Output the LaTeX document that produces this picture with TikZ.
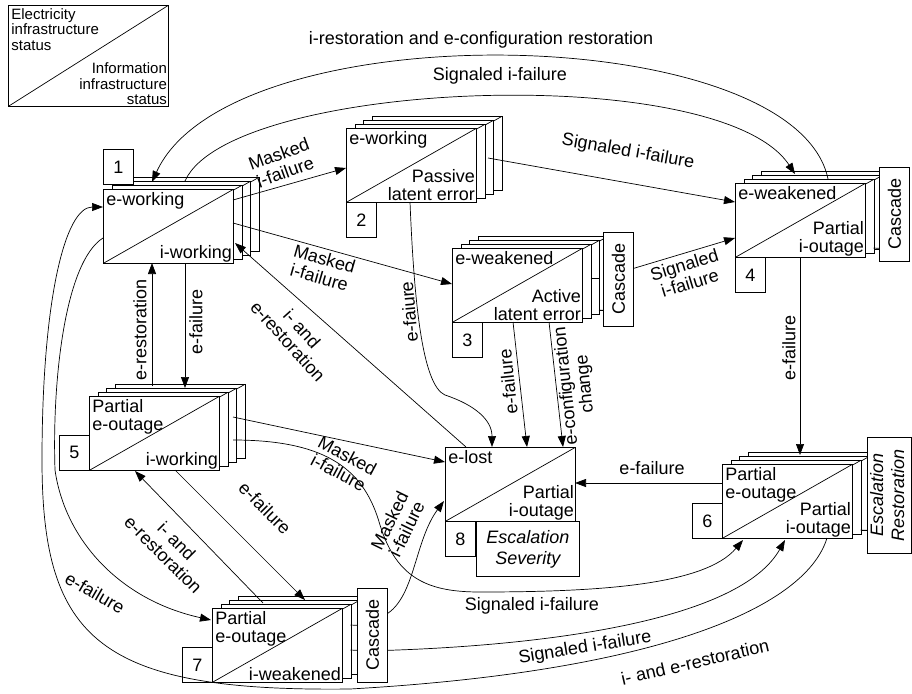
\documentclass[tikz,border=0pt]{standalone}
\usepackage{fontspec}
\setmainfont{Liberation Sans}
\usepackage{graphicx}
\usetikzlibrary{arrows.meta,calc}

\newcommand{\legendfont}{\fontsize{15}{15.5}\selectfont}
\tikzset{
  diag/.style={path picture={\draw (path picture bounding box.south west) -- (path picture bounding box.north east);}},
  sheet/.style={draw,fill=white,diag,anchor=north west,inner sep=0pt,minimum width=130pt,minimum height=74pt},
  etext/.style={anchor=north west,align=left,inner sep=3pt},
  itext/.style={anchor=south east,align=right,inner sep=1.5pt},
  numbox/.style={draw,fill=white,anchor=north west,inner sep=0pt,minimum width=30pt,minimum height=35pt},
  sidebox/.style={draw,fill=white,anchor=north west,inner sep=0pt,minimum width=30pt,minimum height=94pt},
  lbl/.style={inner sep=1pt,align=center,font=\fontsize{18}{19}\selectfont},
  arr/.style={-{Triangle[length=11pt,width=8pt]}},
}
% a state: three sheets behind the front one
\newcommand{\statestack}[4]{%
  \foreach \k in {3,2,1}
    \node[sheet] (#1c\k) at ($(#2)+(8.5*\k,-4*\k)$) {};
  \node[sheet] (#1) at (#2) {};
  \node[etext] (#1e) at (#1.north west) {#3};
  \node[itext] (#1i) at (#1.south east) {#4};
}

\begin{document}
\begin{tikzpicture}[x=1pt,y=-1pt,line width=0.7pt,font=\fontsize{18}{18}\selectfont]
\useasboundingbox (0,0) rectangle (912,693);

% legend
\node[sheet,minimum width=160pt,minimum height=101pt] (key) at (8,5) {};
\node[etext,font=\legendfont] (keye) at (key.north west) {Electricity\\infrastructure\\status};
\node[itext,font=\legendfont] (keyi) at (key.south east) {Information\\infrastructure\\status};

% states
\statestack{s1}{103,189}{e-working}{i-working}
\statestack{s2}{346,128}{e-working}{Passive\\latent error}
\statestack{s3}{452,248}{e-weakened}{Active\\latent error}
\statestack{s4}{735,183}{e-weakened}{Partial\\i-outage}
\statestack{s5}{89,396}{Partial\\e-outage}{i-working}
\statestack{s6}{722,464}{Partial\\e-outage}{Partial\\i-outage}
\statestack{s7}{212,608}{Partial\\e-outage}{i-weakened}
\node[sheet] (s8) at (445,447) {};
\node[etext] (s8e) at (s8.north west) {e-lost};
\node[itext] (s8i) at (s8.south east) {Partial\\i-outage};

% numbers
\node[numbox] (n1) at (103,149) {1};
\node[numbox] (n2) at (346,202) {2};
\node[numbox] (n3) at (452,322) {3};
\node[numbox] (n4) at (735,257) {4};
\node[numbox] (n5) at (59,435) {5};
\node[numbox] (n6) at (692,503) {6};
\node[numbox] (n7) at (182,647) {7};
\node[numbox] (n8) at (445,521) {8};

% side boxes
\node[sidebox] (c3) at (603,232) {\rotatebox{90}{Cascade}};
\node[sidebox] (c4) at (879,167) {\rotatebox{90}{Cascade}};
\node[sidebox] (c7) at (357,588) {\rotatebox{90}{Cascade}};
\node[sidebox,minimum width=44pt,minimum height=116pt,font=\fontsize{18}{21}\selectfont\itshape] (e6) at (867,437)
  {\rotatebox{90}{\begin{tabular}{@{}c@{}}Escalation\\Restoration\end{tabular}}};
\node[draw,fill=white,anchor=north west,inner sep=0pt,minimum width=103pt,minimum height=55pt,
  align=center,font=\fontsize{18}{21}\selectfont\itshape] (e8) at (476,521) {Escalation\\Severity};

% ties to the side boxes
\draw ([shift={(138.5,30)}]s3.north west) -- ([shift={(147,30)}]s3.north west);
\draw ([shift={(147,62)}]s3.north west) -- ([shift={(0,31)}]c3.west);
\draw ([shift={(138.5,65)}]s4.north west) -- ([shift={(0,34)}]c4.west);
\draw ([shift={(138.5,17)}]s7.north west) -- ([shift={(0,-10)}]c7.west);
\draw ([shift={(138.5,42)}]s7.north west) -- ([shift={(0,15)}]c7.west);
\draw ([shift={(138.5,66)}]s6.north west) -- ([shift={(0,35)}]e6.west);

% transitions
\draw[arr] ([shift={(93,-4)}]s4.north west) .. controls (795,20) and (230,10) .. ([shift={(49,-7)}]s1.north west);
\draw[arr] ([shift={(82,-8)}]s1.north west) .. controls (230,80) and (720,60) .. ([shift={(60,-9)}]s4.north west);
\draw[arr] ([shift={(130,11)}]s1.north west) -- ([shift={(0,40)}]s2.north west);
\draw[arr] ([shift={(130,34)}]s1.north west) -- ([shift={(0,36)}]s3.north west);
\draw[arr] ([shift={(21,0)}]s8.north west) -- ([shift={(132,54)}]s1.north west);
\draw[arr] ([shift={(82,74)}]s1.north west) -- ([shift={(96,-8)}]s5.north west);
\draw[arr] ([shift={(63,-10)}]s5.north west) -- ([shift={(49,74)}]s1.north west);
\draw[arr] ([shift={(142,30)}]s2.north west) -- ([shift={(0,19)}]s4.north west);
\draw[arr] ([shift={(0,-11)}]c3.east) -- ([shift={(0,55)}]s4.north west);
\draw[arr] ([shift={(64,74)}]s2.north west) .. controls (414,300) and (422,385) .. (445,395)
  .. controls (475,405) and (492,420) .. ([shift={(47,0)}]s8.north west);
\draw[arr] ([shift={(61,74)}]s3.north west) -- ([shift={(82,0)}]s8.north west);
\draw[arr] ([shift={(97,74)}]s3.north west) -- ([shift={(118,0)}]s8.north west);
\draw[arr] ([shift={(65,74)}]s4.north west) -- ([shift={(78,-9)}]s6.north west);
\draw[arr] ([shift={(0,19)}]s6.north west) -- ([shift={(130,36)}]s8.north west);
\draw[arr] ([shift={(144,21)}]s5.north west) -- ([shift={(0,15)}]s8.north west);
\draw[arr] ([shift={(144,44)}]s5.north west) .. controls (330,440) and (365,472) .. (380,525)
  .. controls (397,580) and (430,592) .. (480,592) .. controls (600,592) and (705,585) .. ([shift={(21,76)}]s6.north west);
\draw[arr] ([shift={(86,74)}]s5.north west) -- ([shift={(93,-8)}]s7.north west);
\draw[arr] ([shift={(51,-5)}]s7.north west) -- ([shift={(46,75)}]s5.north west);
\draw[arr] ([shift={(0,49)}]s1.north west) .. controls (65,262) and (52,380) .. (55,470)
  .. controls (65,540) and (120,600) .. ([shift={(-1,12)}]s7.north west);
\draw[arr] ([shift={(0,-22)}]c7.east) .. controls (415,595) and (415,540) .. ([shift={(-1,54)}]s8.north west);
\draw[arr] ([shift={(0,15)}]c7.east) .. controls (550,645) and (740,620) .. ([shift={(63,76)}]s6.north west);
\draw[arr] ([shift={(105,74)}]s6.north west) .. controls (805,610) and (650,672) .. (350,689)
  .. controls (100,692) and (42,640) .. (42,460) .. controls (42,300) and (65,207) .. ([shift={(0,18)}]s1.north west);

% labels
\node[lbl] (t1) at (481,40) {i-restoration and e-configuration restoration};
\node[lbl] (t2) at (500,76) {Signaled i-failure};
\node[lbl,rotate=20] (m12) at (282,163) {Masked\\i-failure};
\node[lbl,rotate=-16] (m13) at (322,268) {Masked\\i-failure};
\node[lbl,rotate=-48] (r81) at (295,335) {i- and\\e-restoration};
\node[lbl,rotate=90] (f15) at (196,322) {e-failure};
\node[lbl,rotate=90] (r51) at (140,330) {e-restoration};
\node[lbl,rotate=-10] (g24) at (628,152) {Signaled i-failure};
\node[lbl,rotate=17] (g34) at (687,274) {Signaled\\i-failure};
\node[lbl,rotate=95] (f28) at (409,312) {e-faiure};
\node[lbl,rotate=96] (f38) at (508,382) {e-failure};
\node[lbl,rotate=96] (c38) at (576,385) {e-configuration\\change};
\node[lbl,rotate=90] (f46) at (789,348) {e-failure};
\node[lbl] (f68) at (652,468) {e-failure};
\node[lbl,rotate=-28] (m58) at (343,464) {Masked\\i-failure};
\node[lbl] (g56) at (532,606) {Signaled i-failure};
\node[lbl,rotate=-45] (f57) at (265,508) {e-failure};
\node[lbl,rotate=-45] (r75) at (170,548) {i- and\\e-restoration};
\node[lbl,rotate=-30] (f17) at (95,593) {e-failure};
\node[lbl,rotate=64] (m78) at (398,525) {Masked\\i-failure};
\node[lbl,rotate=9] (g76) at (585,648) {Signaled i-failure};
\node[lbl,rotate=13] (r61) at (695,662) {i- and e-restoration};
\end{tikzpicture}
\end{document}
